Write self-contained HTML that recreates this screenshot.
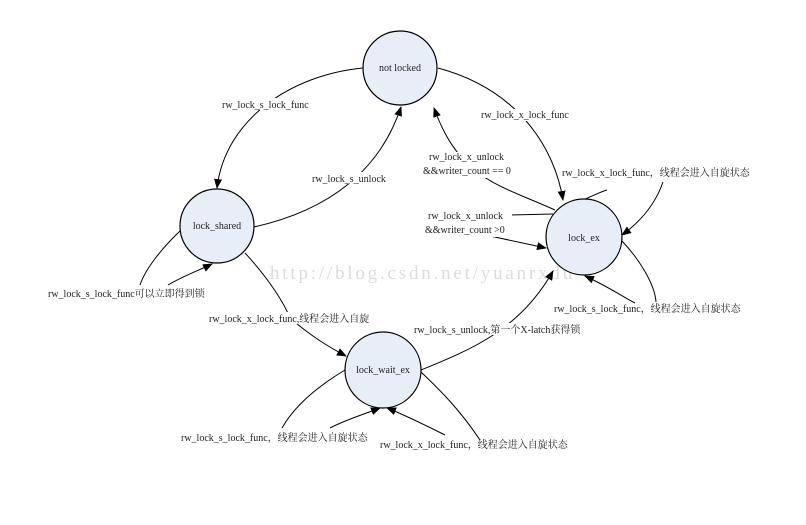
<!DOCTYPE html>
<html><head><style>
body{margin:0;background:#fff;}
svg text{font-family:"Liberation Serif","Noto Serif CJK SC",serif;font-size:10px;fill:#222;}
</style></head><body>
<svg width="806" height="520" viewBox="0 0 806 520" xmlns="http://www.w3.org/2000/svg">
<defs><marker id="a" markerWidth="10" markerHeight="8" refX="9" refY="4" orient="auto" markerUnits="userSpaceOnUse"><path d="M0,0 L10,4 L0,8 z" fill="#000"/></marker></defs>
<text x="270" y="279" style="font-family:'Liberation Serif',serif;font-size:19px;fill:#dcdcdc;letter-spacing:2.8px">http://blog.csdn.net/yuanrxdu</text>
<g fill="none" stroke="#000" stroke-width="1">
<path d="M363,68 C290,75 225,120 217,188" marker-end="url(#a)"/>
<path d="M254,227 C330,210 380,170 401,107" marker-end="url(#a)"/>
<path d="M438,68 C520,90 555,150 563,200" marker-end="url(#a)"/>
<path d="M555,210 C500,185 460,180 434,108" marker-end="url(#a)"/>
<path d="M510,215 L553,214"/>
<path d="M490,236 L546,248" marker-end="url(#a)"/>
<path d="M583,200 C595,195 600,192 607,190"/>
<path d="M663,182 C655,205 640,222 622,235" marker-end="url(#a)"/>
<path d="M622,241 C640,260 655,285 656,302"/>
<path d="M635,303 C620,295 605,285 585,276" marker-end="url(#a)"/>
<path d="M181,230 C160,250 145,270 140,285"/>
<path d="M168,285 C185,275 200,270 212,264" marker-end="url(#a)"/>
<path d="M245,253 C270,280 285,305 290,318 C310,335 325,345 346,356" marker-end="url(#a)"/>
<path d="M421,370 C470,350 520,330 553,271" marker-end="url(#a)"/>
<path d="M345,370 C320,385 295,405 282,428"/>
<path d="M330,428 C345,420 362,415 380,408" marker-end="url(#a)"/>
<path d="M421,372 C440,390 460,410 480,440"/>
<path d="M445,435 C425,425 405,415 387,408" marker-end="url(#a)"/>
</g>
<g fill="#e8eef8" stroke="#000" stroke-width="1.2">
<circle cx="400" cy="68" r="37"/>
<circle cx="217" cy="226" r="37"/>
<circle cx="584" cy="237" r="38"/>
<circle cx="383" cy="370" r="38"/>
</g>
<text x="400" y="71" text-anchor="middle">not locked</text>
<text x="217" y="229" text-anchor="middle">lock_shared</text>
<text x="584" y="241" text-anchor="middle">lock_ex</text>
<text x="383" y="373" text-anchor="middle">lock_wait_ex</text>
<g fill="#fff"><rect x="220" y="98" width="100" height="12"/><rect x="310" y="172" width="80" height="12"/><rect x="425" y="152" width="95" height="26"/><rect x="422" y="209" width="90" height="28"/><rect x="478" y="109" width="96" height="12"/><rect x="207" y="312" width="165" height="12"/><rect x="412" y="323" width="172" height="12"/></g>
<text x="222" y="108">rw_lock_s_lock_func</text>
<text x="312" y="182">rw_lock_s_unlock</text>
<text x="481" y="118">rw_lock_x_lock_func</text>
<text x="429" y="160">rw_lock_x_unlock</text>
<text x="423" y="174">&amp;&amp;writer_count == 0</text>
<text x="428" y="219">rw_lock_x_unlock</text>
<text x="425" y="233">&amp;&amp;writer_count &gt;0</text>
<text x="562" y="176">rw_lock_x_lock_func，线程会进入自旋状态</text>
<text x="554" y="312">rw_lock_s_lock_func，线程会进入自旋状态</text>
<text x="48" y="297">rw_lock_s_lock_func可以立即得到锁</text>
<text x="209" y="322">rw_lock_x_lock_func,线程会进入自旋</text>
<text x="414" y="333">rw_lock_s_unlock,第一个X-latch获得锁</text>
<text x="181" y="441">rw_lock_s_lock_func，线程会进入自旋状态</text>
<text x="380" y="448">rw_lock_x_lock_func，线程会进入自旋状态</text>
</svg>
</body></html>
